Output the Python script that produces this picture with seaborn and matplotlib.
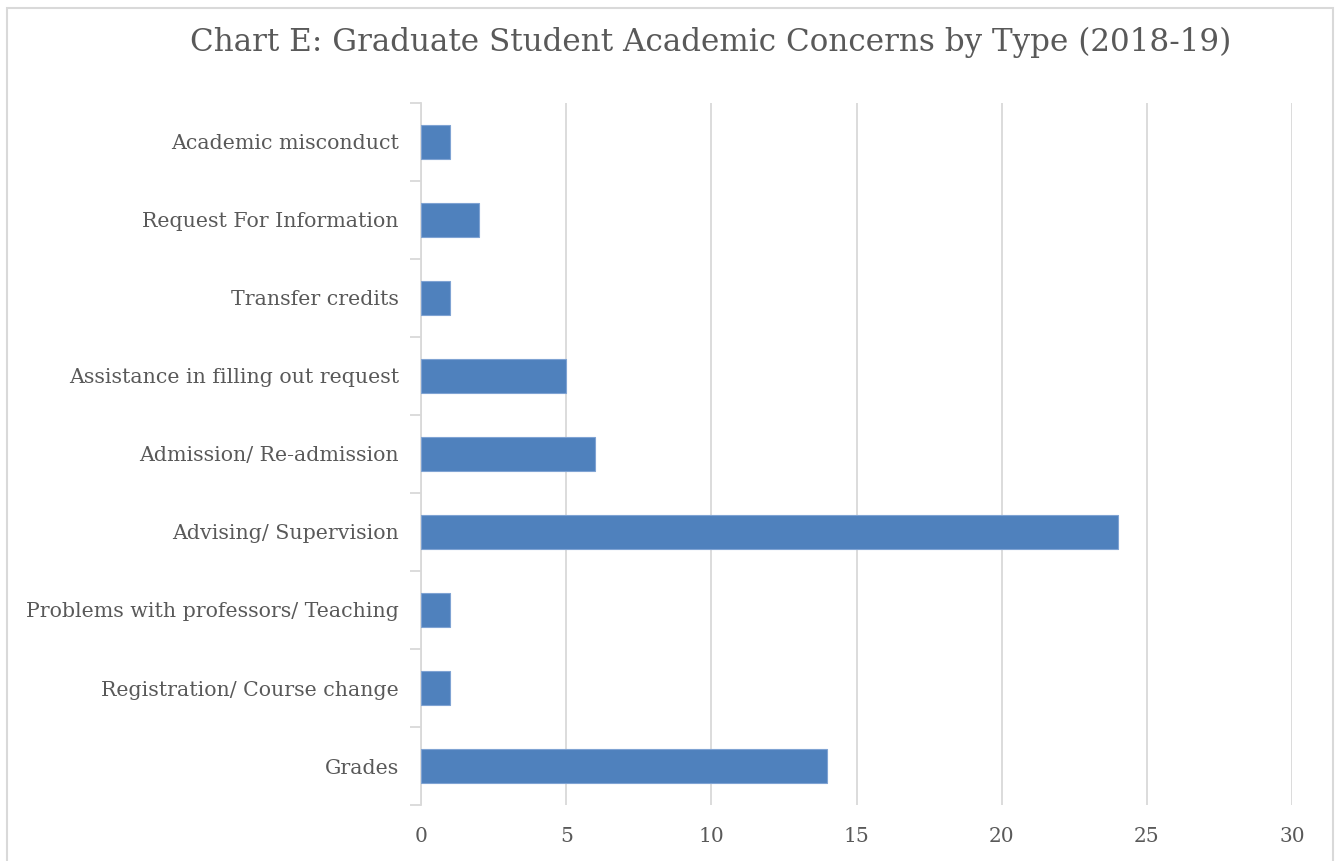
import matplotlib
matplotlib.use("Agg")
import matplotlib.pyplot as plt
import matplotlib.patches as mpatches
import seaborn as sns
import pandas as pd
import numpy as np

# ── Data ─────────────────────────────────────────────────────
concerns = [
    "Academic misconduct",
    "Request For Information",
    "Transfer credits",
    "Assistance in filling out request",
    "Admission/ Re-admission",
    "Advising/ Supervision",
    "Problems with professors/ Teaching",
    "Registration/ Course change",
    "Grades",
]
counts = [1, 2, 1, 5, 6, 24, 1, 1, 14]
x_ticks = [0, 5, 10, 15, 20, 25, 30]

BAR = "#4F81BD"
GRID = "#D9D9D9"
TEXT = "#595959"

sns.set_theme(style="white")
plt.rcParams["font.family"] = ["DejaVu Serif"]

df = pd.DataFrame({"concern": concerns, "count": counts})

fig = plt.figure(figsize=(13.4, 8.61), dpi=100)
ax = fig.add_axes([0.3142, 0.065, 0.65, 0.8155])

sns.barplot(data=df, y="concern", x="count", order=concerns, orient="h",
            color=BAR, saturation=1, width=0.44, ax=ax, zorder=3,
            edgecolor="#7FA3D3", linewidth=0.8)

ax.set_xlim(0, 30)
ax.set_ylim(len(concerns) - 0.5, -0.5)
ax.set_xticks(x_ticks)
ax.set_xticklabels([str(t) for t in x_ticks], fontsize=14.5, color=TEXT)
ax.set_yticklabels(concerns, fontsize=14.8, color=TEXT)
ax.set_xlabel("")
ax.set_ylabel("")

ax.grid(axis="x", color=GRID, linewidth=1.3, zorder=0)
ax.grid(axis="y", visible=False)
for s in ["top", "right", "bottom"]:
    ax.spines[s].set_visible(False)
ax.spines["left"].set_color(GRID)
ax.spines["left"].set_linewidth(1.3)

# category separators on the y axis
ax.set_yticks(np.arange(-0.5, len(concerns), 1.0), minor=True)
ax.tick_params(axis="y", which="major", length=0, pad=16)
ax.tick_params(axis="y", which="minor", length=8, width=1.3, color=GRID, left=True)
ax.tick_params(axis="x", length=0, pad=16)

fig.text(0.53, 0.951, "Chart E: Graduate Student Academic Concerns by Type (2018-19)",
         ha="center", va="center", fontsize=22.3, color=TEXT)

# chart frame
fig.patches.append(mpatches.Rectangle((7 / 1340, -0.01), 1326 / 1340, 1 - 8 / 861 + 0.01,
                                      transform=fig.transFigure, fill=False,
                                      edgecolor=GRID, linewidth=1.5))

fig.savefig("out.png", dpi=100, facecolor="white")
plt.close()
